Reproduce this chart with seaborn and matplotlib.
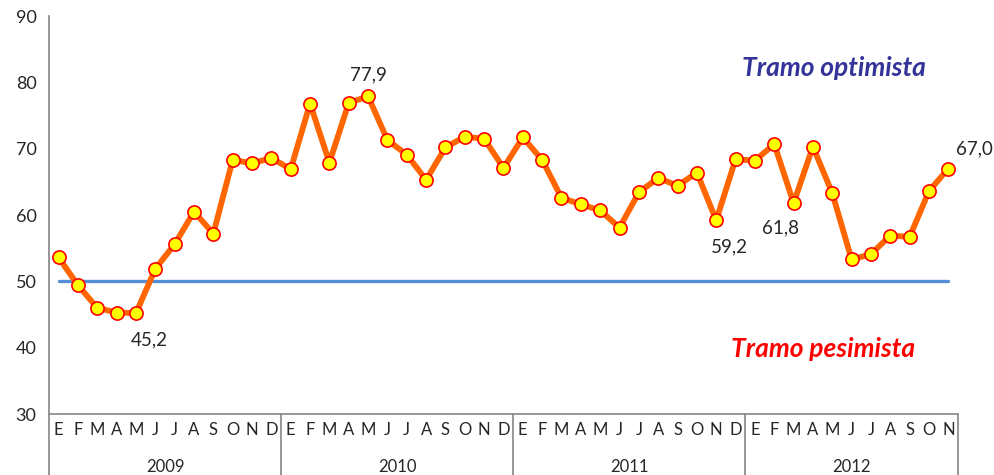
import numpy as np
import pandas as pd
import seaborn as sns
import matplotlib.pyplot as plt
from matplotlib.transforms import blended_transform_factory

# monthly index values, Jan 2009 .. Nov 2012
years = ['2009', '2010', '2011', '2012']
months = ['E', 'F', 'M', 'A', 'M', 'J', 'J', 'A', 'S', 'O', 'N', 'D']
values_2009 = [53.6, 49.4, 46.0, 45.3, 45.2, 51.9, 55.6, 60.5, 57.2, 68.3, 67.8, 68.6]
values_2010 = [66.9, 76.8, 67.9, 76.9, 77.9, 71.3, 69.1, 65.3, 70.2, 71.8, 71.5, 67.1]
values_2011 = [71.7, 68.3, 62.6, 61.6, 60.7, 58.1, 63.4, 65.6, 64.4, 66.4, 59.2, 68.4]
values_2012 = [68.2, 70.7, 61.8, 70.3, 63.3, 53.3, 54.1, 56.9, 56.7, 63.6, 67.0]
threshold = 50
labelled = {'2009-M5': '45,2', '2010-M5': '77,9', '2011-N': '59,2',
            '2012-M3': '61,8', '2012-N': '67,0'}

series = [values_2009, values_2010, values_2011, values_2012]
rows = []
for yr, vals in zip(years, series):
    for k, v in enumerate(vals):
        rows.append({'year': yr, 'month': months[k], 'mnum': k + 1, 'value': v})
df = pd.DataFrame(rows)
df['pos'] = np.arange(len(df))

sns.set_style('white')
plt.rcParams['font.family'] = ['Lato', 'DejaVu Sans']

fig = plt.figure(figsize=(9.95, 4.75), dpi=100)
ax = fig.add_axes([0.0492, 0.1284, 0.9628 - 0.0492, 0.9663 - 0.1284])

grey = '#868686'

# threshold line
ax.plot([df['pos'].iloc[0], df['pos'].iloc[-1]], [threshold, threshold],
        color='#558ED5', lw=2.4, zorder=2)

sns.lineplot(data=df, x='pos', y='value', ax=ax, color='#FF6600', lw=4.2,
             marker='o', markersize=9.5, markerfacecolor='#FFFF00',
             markeredgecolor='#FF0000', markeredgewidth=1.2, zorder=3)

ax.set_xlim(-0.5, len(df) - 0.5)
ax.set_ylim(30, 90)
ax.set_yticks(range(30, 91, 10))
ax.tick_params(axis='y', labelsize=13, length=5, color=grey, direction='out', pad=4)
ax.set_xticks(df['pos'])
ax.set_xticklabels(df['month'], fontsize=12)
ax.tick_params(axis='x', length=0, pad=6)
ax.set_xlabel('')
ax.set_ylabel('')
for s in ['top', 'right']:
    ax.spines[s].set_visible(False)
for s in ['left', 'bottom']:
    ax.spines[s].set_color(grey)
    ax.spines[s].set_linewidth(1.2)

# multi-level category axis
tr = blended_transform_factory(ax.transData, ax.transAxes)
bounds = [-0.5]
for yr in years:
    bounds.append(df.loc[df['year'] == yr, 'pos'].max() + 0.5)
for b in bounds:
    ax.plot([b, b], [0, -0.16], color=grey, lw=1.2, transform=tr, clip_on=False)
for i, yr in enumerate(years):
    ax.text((bounds[i] + bounds[i + 1]) / 2, -0.133, yr, transform=tr,
            ha='center', va='center', fontsize=12)

# point labels
for _, r in df.iterrows():
    key = f"{r['year']}-{r['month']}{r['mnum'] if r['month'] == 'M' else ''}"
    if key not in labelled:
        continue
    txt = labelled[key]
    if key == '2010-M5':
        ax.text(r['pos'], r['value'] + 3.3, txt, ha='center', va='center', fontsize=13.5)
    elif key == '2012-N':
        ax.text(r['pos'] + 1.35, r['value'] + 3.0, txt, ha='center', va='center', fontsize=13.5)
    elif key == '2012-M3':
        ax.text(r['pos'] - 0.7, r['value'] - 3.8, txt, ha='center', va='center', fontsize=13.5)
    else:
        ax.text(r['pos'] + 0.7, r['value'] - 4.0, txt, ha='center', va='center', fontsize=13.5)

ax.text(40.1, 82.1, 'Tramo optimista', ha='center', va='center', fontsize=19,
        fontweight='bold', style='italic', color='#333399')
ax.text(39.5, 39.8, 'Tramo pesimista', ha='center', va='center', fontsize=19,
        fontweight='bold', style='italic', color='#FF0000')

fig.savefig('out.png', dpi=100)
